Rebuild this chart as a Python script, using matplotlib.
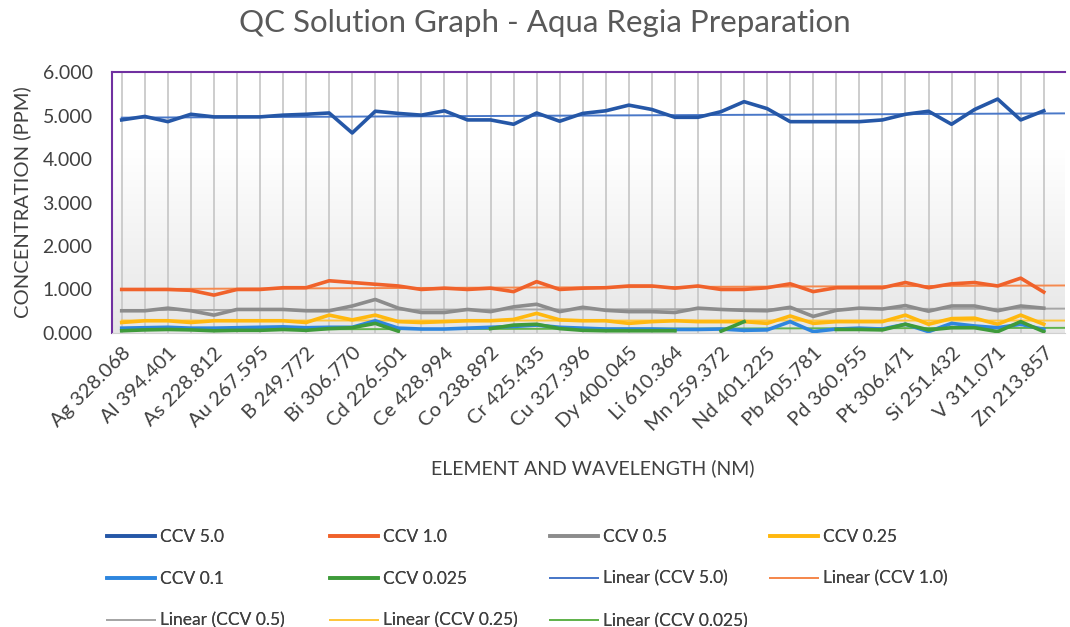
import numpy as np
import matplotlib.pyplot as plt
from matplotlib.colors import LinearSegmentedColormap

plt.rcParams['font.family'] = ['Lato', 'DejaVu Sans']

# tick labels (every other category is labelled in the source chart)
tick_labels = ['Ag 328.068', 'Al 394.401', 'As 228.812', 'Au 267.595', 'B 249.772',
               'Bi 306.770', 'Cd 226.501', 'Ce 428.994', 'Co 238.892', 'Cr 425.435',
               'Cu 327.396', 'Dy 400.045', 'Li 610.364', 'Mn 259.372', 'Nd 401.225',
               'Pb 405.781', 'Pd 360.955', 'Pt 306.471', 'Si 251.432', 'V 311.071',
               'Zn 213.857']
n_cat = 41

ccv_5 = [4.90, 4.98, 4.86, 5.03, 4.97, 4.97, 4.97, 5.01, 5.03, 5.06,
         4.60, 5.10, 5.05, 5.01, 5.11, 4.90, 4.90, 4.80, 5.06, 4.87,
         5.05, 5.11, 5.24, 5.14, 4.96, 4.96, 5.09, 5.32, 5.16, 4.86,
         4.86, 4.86, 4.86, 4.90, 5.03, 5.10, 4.80, 5.14, 5.38, 4.90, 5.11]
ccv_1 = [1.00, 1.00, 1.00, 0.98, 0.87, 1.00, 1.00, 1.04, 1.04, 1.20,
         1.16, 1.12, 1.08, 1.00, 1.03, 1.00, 1.03, 0.95, 1.18, 1.00,
         1.03, 1.04, 1.08, 1.08, 1.03, 1.08, 1.00, 1.00, 1.04, 1.13,
         0.95, 1.04, 1.04, 1.04, 1.16, 1.04, 1.13, 1.16, 1.08, 1.26, 0.94]
ccv_05 = [0.51, 0.51, 0.57, 0.51, 0.41, 0.54, 0.54, 0.54, 0.51, 0.51,
          0.62, 0.77, 0.57, 0.47, 0.47, 0.54, 0.49, 0.60, 0.66, 0.49,
          0.59, 0.52, 0.49, 0.49, 0.47, 0.57, 0.54, 0.52, 0.51, 0.59,
          0.38, 0.52, 0.57, 0.55, 0.63, 0.50, 0.62, 0.62, 0.51, 0.62, 0.57]
ccv_025 = [0.24, 0.28, 0.28, 0.24, 0.28, 0.28, 0.28, 0.28, 0.24, 0.41,
           0.30, 0.41, 0.26, 0.24, 0.26, 0.28, 0.28, 0.31, 0.45, 0.30,
           0.28, 0.28, 0.22, 0.26, 0.28, 0.26, 0.26, 0.26, 0.22, 0.39,
           0.22, 0.26, 0.26, 0.26, 0.41, 0.20, 0.33, 0.34, 0.20, 0.41, 0.20]
ccv_01 = [0.11, 0.12, 0.13, 0.11, 0.11, 0.12, 0.13, 0.14, 0.12, 0.13,
          0.13, 0.28, 0.11, 0.09, 0.09, 0.11, 0.13, 0.15, 0.18, 0.13,
          0.11, 0.09, 0.09, 0.09, 0.08, 0.08, 0.09, 0.06, 0.07, 0.26,
          0.03, 0.09, 0.11, 0.09, 0.20, 0.03, 0.22, 0.16, 0.12, 0.20, 0.08]
ccv_0025 = [0.05, 0.07, 0.08, 0.07, 0.05, 0.06, 0.06, 0.08, 0.06, 0.10,
            0.12, 0.22, 0.04, np.nan, np.nan, np.nan, 0.10, 0.18, 0.20, 0.10,
            0.06, 0.05, 0.05, 0.05, 0.05, np.nan, 0.04, 0.26, np.nan, np.nan,
            np.nan, 0.08, 0.08, 0.07, 0.20, 0.07, 0.12, 0.12, 0.03, 0.26, 0.03]

series = [('CCV 5.0', ccv_5, '#2557A7', '#4A78C8', True),
          ('CCV 1.0', ccv_1, '#F0622B', '#F5894E', True),
          ('CCV 0.5', ccv_05, '#8C8C8C', '#A6A6A6', True),
          ('CCV 0.25', ccv_025, '#FFB80F', '#FFC63D', True),
          ('CCV 0.1', ccv_01, '#2E86DE', None, False),
          ('CCV 0.025', ccv_0025, '#3E9B3A', '#62B34D', True)]

fig = plt.figure(figsize=(10.7, 6.27), dpi=100)
ax = fig.add_axes([0.1047, 0.469, 0.8906, 0.416])

x = np.arange(n_cat)
x_lo, x_hi = -0.42, 40.92

# soft gradient background of the plot area (white on top, light grey at the bottom)
grad = LinearSegmentedColormap.from_list('bg', [(0, '#FFFFFF'), (0.3, '#FFFFFF'), (1, '#E6E6E6')])
ax.imshow(np.linspace(0, 1, 256).reshape(-1, 1), cmap=grad, aspect='auto',
          extent=[x_lo, x_hi, 0, 6], zorder=0)

for xi in x:
    ax.axvline(xi, color='#C9C9C9', lw=1.3, zorder=1)

handles_main, handles_trend = [], []
for name, vals, col, tcol, trend in series:
    y = np.array(vals, dtype=float)
    h, = ax.plot(x, y, color=col, lw=2.6, zorder=3, label=name, solid_joinstyle='round')
    handles_main.append(h)
    if trend:
        ok = ~np.isnan(y)
        k, b = np.polyfit(x[ok], y[ok], 1)
        xt = np.array([0, x_hi])
        ht, = ax.plot(xt, k * xt + b, color=tcol, lw=1.4, zorder=2,
                      label='Linear (%s)' % name)
        handles_trend.append(ht)

ax.set_xlim(x_lo, x_hi)
ax.set_ylim(0, 6)
ax.set_yticks(np.arange(0, 7, 1))
ax.set_yticklabels(['%.3f' % v for v in np.arange(0, 7, 1)], fontsize=14, color='#404040')
ax.set_xticks(x[::2])
ax.set_xticklabels(tick_labels, rotation=45, ha='right', rotation_mode='anchor',
                   fontsize=14.5, color='#404040')
ax.tick_params(axis='y', length=0, pad=14)
ax.tick_params(axis='x', length=0, pad=8)

for s in ['top', 'left']:
    ax.spines[s].set_color('#7030A0')
    ax.spines[s].set_linewidth(1.5)
ax.spines['right'].set_visible(False)
ax.spines['bottom'].set_color('#D0D0D0')

ax.set_ylabel('CONCENTRATION (PPM)', fontsize=14.5, color='#404040', labelpad=8)
fig.text(0.554, 0.254, 'ELEMENT AND WAVELENGTH (NM)', fontsize=14, color='#404040',
         ha='center', va='center')
fig.text(0.509, 0.963, 'QC Solution Graph - Aqua Regia Preparation', fontsize=22.5,
         color='#595959', ha='center', va='center')

# legend laid out row by row in four fixed-width columns
handles = handles_main + handles_trend
col_x = [100, 323, 543, 763]
for c in range(4):
    hs = handles[c::4]
    leg = fig.legend(hs, [h.get_label() for h in hs], loc='upper left',
                     bbox_to_anchor=(col_x[c] / 1070, 0.168), frameon=False,
                     fontsize=12.5, handlelength=2.75, handletextpad=0.3,
                     labelspacing=1.5, labelcolor='#404040', borderaxespad=0)
    fig.add_artist(leg)

fig.savefig('out.png', dpi=100)
